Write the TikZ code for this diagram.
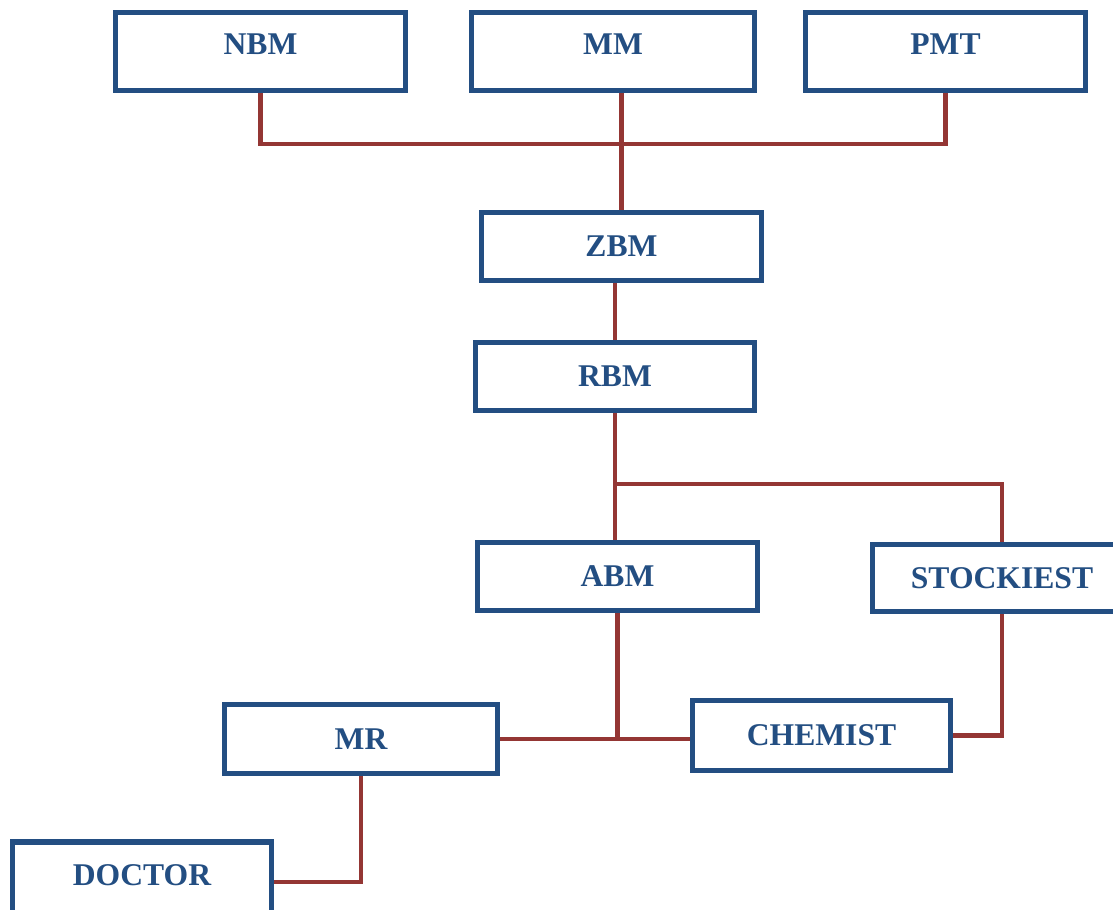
\documentclass[tikz,border=0pt]{standalone}
\usepackage{fontspec}
\setmainfont{Liberation Serif}
\definecolor{boxblue}{HTML}{234E82}
\definecolor{linered}{HTML}{943634}
\tikzset{
  box/.style={draw=boxblue, line width=3pt, fill=white, text=boxblue,
    font=\bfseries\fontsize{18}{20}\selectfont, inner sep=0pt},
  raised/.style={text depth=0.28cm},
  link/.style={draw=linered, line width=2.3pt}
}
\begin{document}
\begin{tikzpicture}[x=0.02cm, y=-0.02cm]
\clip (0,0) rectangle (1113,910);
\fill[white] (0,0) rectangle (1113,910);
% top row
\node[box, raised, minimum width=5.8cm, minimum height=1.56cm] (nbm) at (260.5,51.5) {NBM};
\node[box, raised, minimum width=5.66cm, minimum height=1.56cm] (mm) at (613,51.5) {MM};
\node[box, raised, minimum width=5.6cm, minimum height=1.56cm] (pmt) at (945.5,51.5) {PMT};
% middle column
\node[box, minimum width=5.6cm, minimum height=1.36cm] (zbm) at (621.5,246.5) {ZBM};
\node[box, minimum width=5.58cm, minimum height=1.36cm] (rbm) at (615,376.5) {RBM};
\node[box, minimum width=5.6cm, minimum height=1.36cm] (abm) at (617.5,576.5) {ABM};
\node[box, minimum width=5.18cm, minimum height=1.34cm] (stock) at (1002,578) {STOCKIEST};
% bottom
\node[box, minimum width=5.46cm, minimum height=1.38cm] (mr) at (361,739) {MR};
\node[box, minimum width=5.16cm, minimum height=1.4cm] (chem) at (821.5,735.5) {CHEMIST};
\node[box, raised, minimum width=5.18cm, minimum height=1.6cm] (doctor) at (142,882) {DOCTOR};
\coordinate (top) at (621.5,144);
\coordinate (split) at (616,484);
% connectors
\draw[link] (nbm.south) |- (top) -| (pmt.south);
\draw[link] (zbm.north) -- (zbm.north |- mm.south);
\draw[link] (rbm.north) -- (rbm.north |- zbm.south);
\draw[link] (rbm.south) -- (rbm.south |- abm.north);
\draw[link] (split) -| (stock.north);
\draw[link] (abm.south) -- (abm.south |- mr.east);
\draw[link] (mr.east) -- (mr.east -| chem.west);
\draw[link] (stock.south) |- (chem.east);
\draw[link] (mr.south) |- (doctor.east);
\end{tikzpicture}
\end{document}
